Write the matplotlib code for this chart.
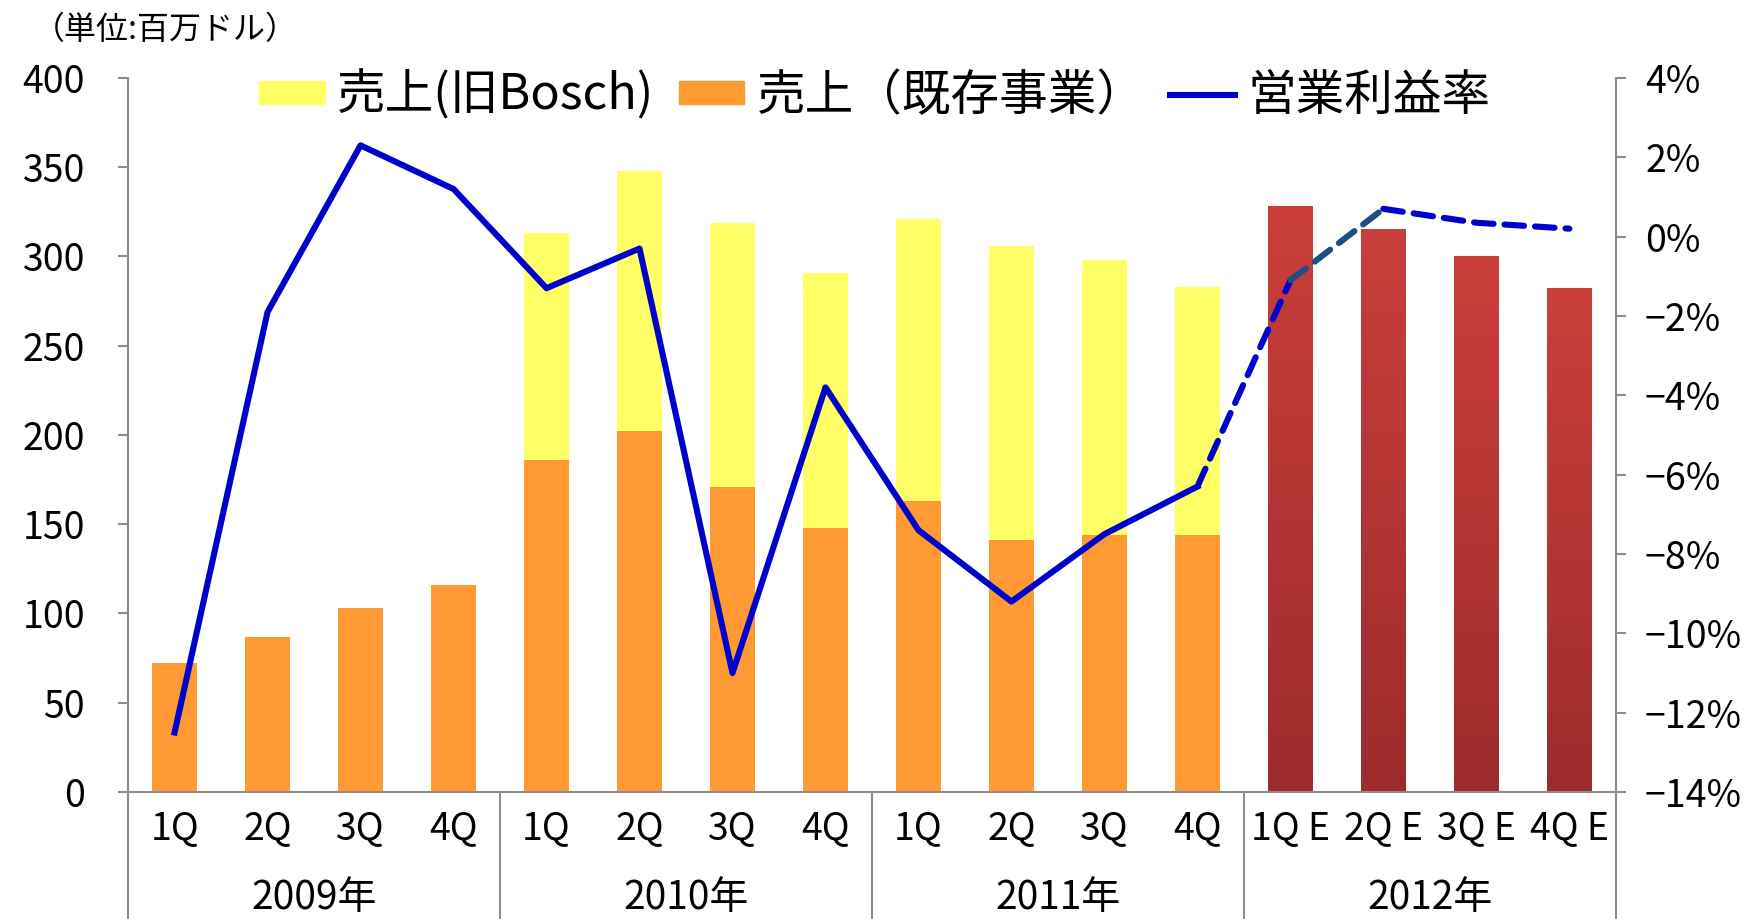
import numpy as np
import matplotlib.pyplot as plt
from matplotlib.patches import Patch
from matplotlib.lines import Line2D
from matplotlib.colors import LinearSegmentedColormap
from matplotlib.transforms import blended_transform_factory

plt.rcParams['font.family'] = ['Noto Sans CJK JP', 'DejaVu Sans']

# data (百万ドル / %)
quarters = ['1Q', '2Q', '3Q', '4Q'] * 3 + ['1Q E', '2Q E', '3Q E', '4Q E']
years = ['2009年', '2010年', '2011年', '2012年']
sales_existing = [72, 87, 103, 116, 186, 202, 171, 148, 163, 141, 144, 144]
sales_bosch = [0, 0, 0, 0, 127, 146, 148, 143, 158, 165, 154, 139]
sales_forecast = [328, 315, 300, 282]
margin_actual = [-12.5, -1.9, 2.3, 1.2, -1.3, -0.3, -11.0, -3.8, -7.4, -9.2, -7.5, -6.3]
margin_forecast = [-1.1, 0.7, 0.35, 0.2]

gray = '#8C8C8C'
blue = '#0000CC'
navy = '#1F4E85'
lw = 4.4

fig = plt.figure(figsize=(17.45, 9.19), dpi=100)
ax = fig.add_axes([0.0734, 0.1382, 0.8526, 0.777])

x = np.arange(len(quarters))
w = 0.48
n = len(sales_existing)

ax.bar(x[:n], sales_existing, w, color='#FF9933', zorder=2)
ax.bar(x[:n], sales_bosch, w, bottom=sales_existing, color='#FFFF66', zorder=2)

# 2012 forecast bars with a vertical red gradient
red_cmap = LinearSegmentedColormap.from_list('red', ['#9E2B2C', '#CA3F3B'])
grad = np.linspace(0, 1, 256).reshape(-1, 1)
bars = ax.bar(x[n:], sales_forecast, w, color='none', zorder=2)
for b in bars:
    ax.imshow(grad, extent=[b.get_x(), b.get_x() + b.get_width(), 0, b.get_height()],
              origin='lower', aspect='auto', cmap=red_cmap, zorder=2)

ax.set_xlim(-0.5, len(quarters) - 0.5)
ax.set_ylim(0, 400)
ax.set_yticks(range(0, 401, 50))

# operating margin on the right axis
ax2 = ax.twinx()
ax2.plot(x[:n], margin_actual, color=blue, lw=lw, solid_joinstyle='round')
fx = list(x[n - 1:])
fy = [margin_actual[-1]] + margin_forecast
dash = dict(lw=lw, dashes=(3.2, 1.8), dash_capstyle='round')
ax2.plot(fx[0:2], fy[0:2], color=blue, **dash)
ax2.plot(fx[1:3], fy[1:3], color=navy, **dash)
ax2.plot(fx[2:], fy[2:], color=blue, **dash)
ax2.set_ylim(-14, 4)
ax2.set_yticks(range(-14, 5, 2))
ax2.set_yticklabels([f'{v}%'.replace('-', '−') for v in range(-14, 5, 2)])

for a in (ax, ax2):
    for s in a.spines.values():
        s.set_color(gray)
        s.set_linewidth(1.5)
    a.spines['top'].set_visible(False)
ax.spines['right'].set_visible(False)
ax2.spines['left'].set_visible(False)
ax2.spines['bottom'].set_visible(False)

ax.tick_params(axis='y', length=7, width=1.5, color=gray, pad=24, labelsize=27)
ax2.tick_params(axis='y', length=7, width=1.5, color=gray, pad=14, labelsize=27)
ax.set_xticks(x, quarters)
ax.tick_params(axis='x', length=0, pad=12, labelsize=27)

# year labels and group separators below the axis
tr = blended_transform_factory(ax.transData, ax.transAxes)
for i, yr in enumerate(years):
    ax.text(i * 4 + 1.5, -0.149, yr, transform=tr, ha='center', va='center', fontsize=28)
for sx in np.arange(-0.5, len(quarters), 4):
    ax.add_line(Line2D([sx, sx], [0, -0.2], transform=tr, color=gray, lw=1.5, clip_on=False))

handles = [Patch(color='#FFFF66'), Patch(color='#FF9933'), Line2D([], [], color=blue, lw=lw)]
labels = ['売上(旧Bosch)', '売上（既存事業）', '営業利益率']
ax2.legend(handles, labels, ncol=3, loc='center', bbox_to_anchor=(0.502, 0.975), frameon=False,
           fontsize=35, handlelength=1.35, handleheight=0.35, handletextpad=0.25, columnspacing=0.5)

fig.text(33 / 1745, 1 - 30 / 919, '（単位:百万ドル）', fontsize=23, va='center', ha='left')

fig.savefig('out.png', dpi=100)
